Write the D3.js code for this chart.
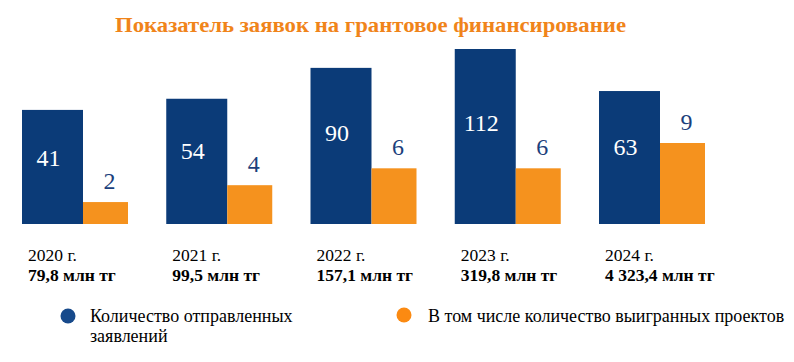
<!DOCTYPE html>
<html>
<head>
<meta charset="utf-8">
<script src="https://cdn.jsdelivr.net/npm/d3@7"></script>
<style>
  body { margin: 0; background: #fff; }
</style>
</head>
<body>
<svg id="chart" width="794" height="362"></svg>
<script>
var years = ["2020", "2021", "2022", "2023", "2024"];
var sent = [41, 54, 90, 112, 63];
var won = [2, 4, 6, 6, 9];
var amounts = ["79,8 млн тг", "99,5 млн тг", "157,1 млн тг", "319,8 млн тг", "4 323,4 млн тг"];
var seriesNames = ["Количество отправленных заявлений", "В том числе количество выигранных проектов"];

var blue = "#0b3b78", orange = "#f5921e";
var serif = "'Liberation Serif', 'Times New Roman', Tinos";

var svg = d3.select("#chart");
var base = 224, blueW = 61, orangeW = 45;

// group positions
var x = d3.scalePoint().domain(years).range([22, 599]);

// heights are not proportional in the original picture, so each series gets its own scale
var yBlue = d3.scaleLinear().domain([-92, 112]).range([base, base - 175]);
var yOrange = d3.scaleLinear().domain([-0.6, 9]).range([base, base - 81]);

svg.append("text")
	.attr("x", 115).attr("y", 32)
	.attr("textLength", 511).attr("lengthAdjust", "spacingAndGlyphs")
	.attr("font-family", serif)
	.attr("font-size", 22).attr("font-weight", "bold")
	.attr("fill", "#f0841a")
	.text("Показатель заявок на грантовое финансирование");

var rows = years.map(function(y, i){
	return {year: y, sent: sent[i], won: won[i], amount: amounts[i]};
});

var g = svg.selectAll("g.grp").data(rows).enter().append("g").attr("class", "grp");

g.append("rect")
	.attr("x", function(d){ return x(d.year); })
	.attr("y", function(d){ return yBlue(d.sent); })
	.attr("width", blueW)
	.attr("height", function(d){ return base - yBlue(d.sent); })
	.attr("fill", blue);

g.append("rect")
	.attr("x", function(d){ return x(d.year) + blueW; })
	.attr("y", function(d){ return yOrange(d.won); })
	.attr("width", orangeW)
	.attr("height", function(d){ return base - yOrange(d.won); })
	.attr("fill", orange);

g.append("text")
	.attr("x", function(d){ return x(d.year) + blueW / 2 - 4; })
	.attr("y", function(d){ var t = yBlue(d.sent); return t + (base - t) * 0.42 + 8; })
	.attr("text-anchor", "middle")
	.attr("font-family", serif)
	.attr("font-size", 24).attr("fill", "#fff")
	.text(function(d){ return d.sent; });

g.append("text")
	.attr("x", function(d){ return x(d.year) + blueW + orangeW / 2 + 4; })
	.attr("y", function(d){ return yOrange(d.won) - 13; })
	.attr("text-anchor", "middle")
	.attr("font-family", serif)
	.attr("font-size", 24).attr("fill", "#1c3f7c")
	.text(function(d){ return d.won; });

g.append("text")
	.attr("x", function(d){ return x(d.year) + 6; })
	.attr("y", 261)
	.attr("font-family", serif)
	.attr("font-size", 17.5).attr("fill", "#000")
	.text(function(d){ return d.year + " г."; });

g.append("text")
	.attr("x", function(d){ return x(d.year) + 6; })
	.attr("y", 281)
	.attr("font-family", serif)
	.attr("font-size", 17.5).attr("font-weight", "bold").attr("fill", "#000")
	.text(function(d){ return d.amount; });

// legend
var leg = svg.append("g");
leg.append("circle").attr("cx", 68).attr("cy", 316).attr("r", 7.5).attr("fill", "#174a8b");
leg.append("text").attr("x", 90).attr("y", 322).attr("font-family", serif).attr("font-size", 18).text("Количество отправленных");
leg.append("text").attr("x", 90).attr("y", 342).attr("font-family", serif).attr("font-size", 18).text("заявлений");
leg.append("circle").attr("cx", 404).attr("cy", 315).attr("r", 7.5).attr("fill", "#fb8a12");
leg.append("text").attr("x", 428).attr("y", 322).attr("font-family", serif).attr("font-size", 18).text(seriesNames[1]);
</script>
</body>
</html>
